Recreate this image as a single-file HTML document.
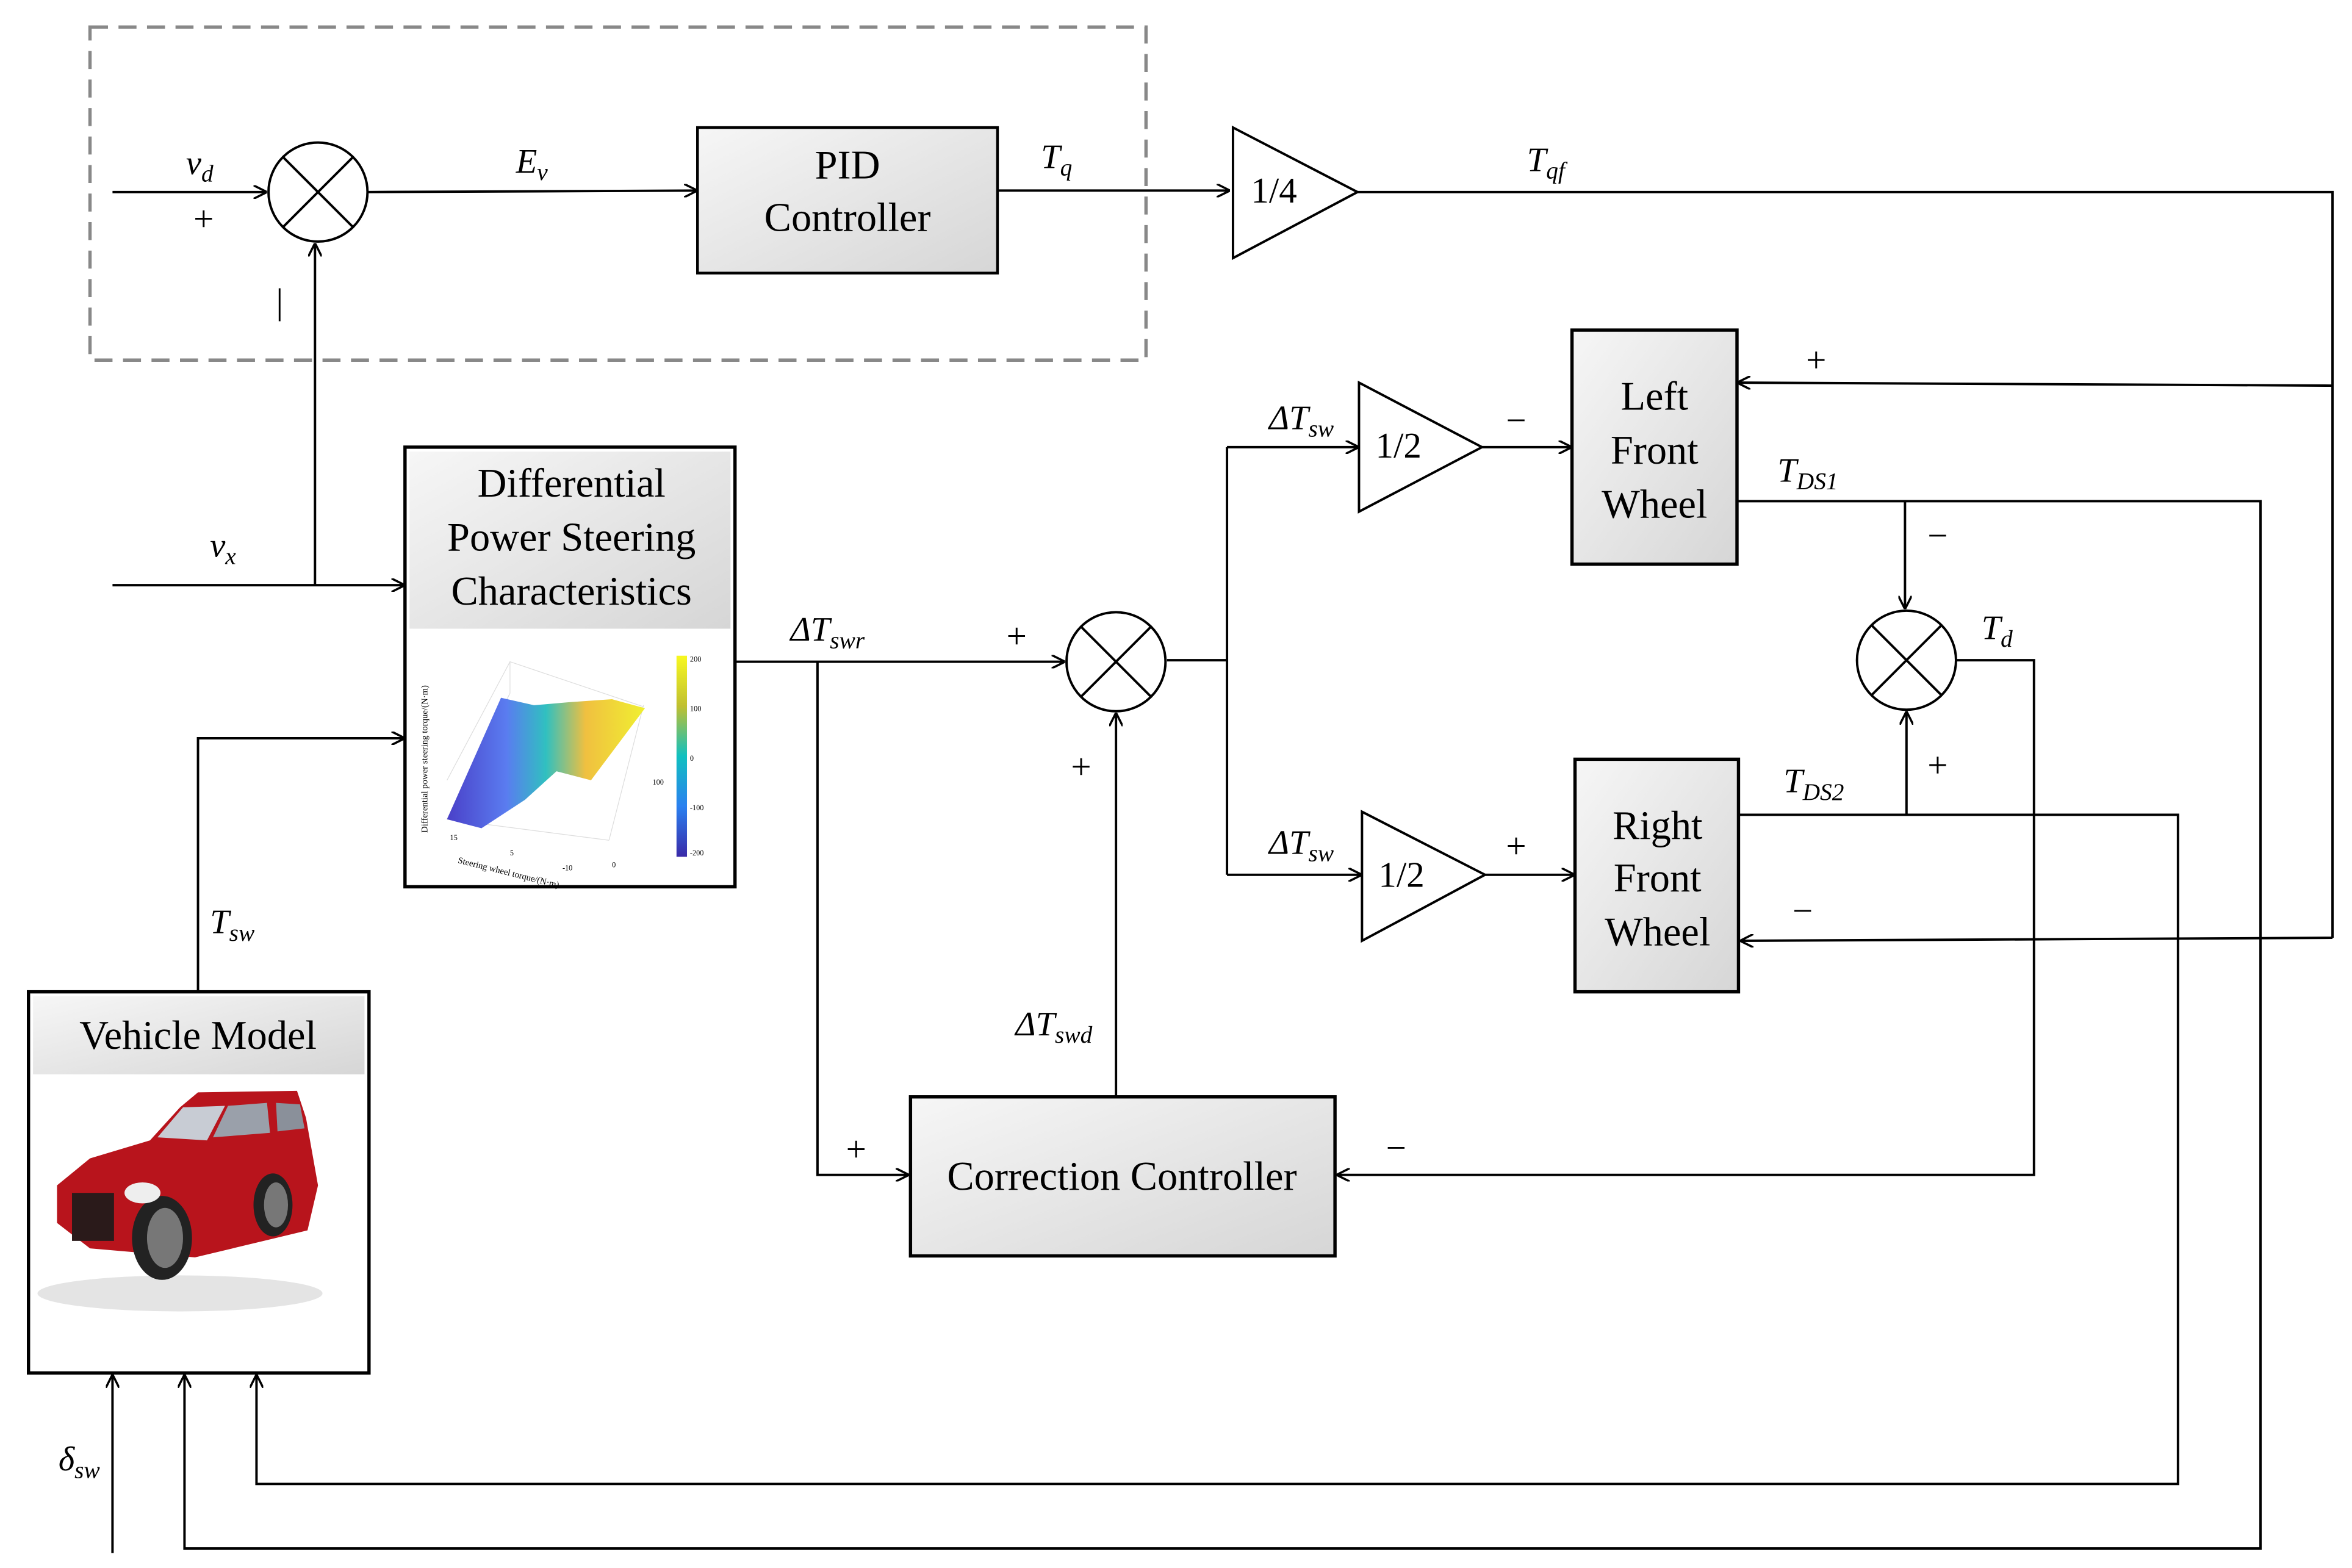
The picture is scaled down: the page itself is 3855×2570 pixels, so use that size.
<!DOCTYPE html>
<html><head><meta charset="utf-8"><style>
html,body{margin:0;padding:0;background:#fff;}
svg{display:block;}
text{font-family:"Liberation Serif",serif;fill:#000;}
.m{font-style:italic;font-size:23px;}
.s{font-size:16px;font-style:italic;}
.b{font-size:27px;text-anchor:middle;}
.p{font-size:24px;}
</style></head><body>
<svg width="3855" height="2570" viewBox="0 0 1568 1045" preserveAspectRatio="none" xmlns="http://www.w3.org/2000/svg">
<defs>
<marker id="a" viewBox="0 0 10 10" refX="10" refY="5" markerWidth="9" markerHeight="9" markerUnits="userSpaceOnUse" orient="auto">
<path d="M0,0 L10,5 L0,10" fill="none" stroke="#000" stroke-width="1.6"/></marker>
<linearGradient id="g" x1="0" y1="0" x2="1" y2="1"><stop offset="0" stop-color="#f6f6f6"/><stop offset="1" stop-color="#d6d6d6"/></linearGradient>
<linearGradient id="sf" x1="0" y1="0" x2="1" y2="0"><stop offset="0" stop-color="#4a40c8"/><stop offset="0.3" stop-color="#5a7cf0"/><stop offset="0.5" stop-color="#30c0c0"/><stop offset="0.7" stop-color="#f0c040"/><stop offset="1" stop-color="#f0f030"/></linearGradient>
<linearGradient id="cb" x1="0" y1="1" x2="0" y2="0"><stop offset="0" stop-color="#3a2aa8"/><stop offset="0.25" stop-color="#2a80f0"/><stop offset="0.5" stop-color="#10c0c0"/><stop offset="0.75" stop-color="#c0c030"/><stop offset="1" stop-color="#f8f820"/></linearGradient>
</defs>
<g stroke="#000" stroke-width="1.6" fill="none">
<rect x="60" y="18" width="704" height="222" stroke="#888" stroke-width="2.2" stroke-dasharray="12,7"/>
<line x1="75" y1="128" x2="178" y2="128" marker-end="url(#a)"/>
<circle cx="212" cy="128" r="33"/><line x1="189" y1="105" x2="235" y2="151"/><line x1="235" y1="105" x2="189" y2="151"/>
<line x1="245" y1="128" x2="465" y2="127" marker-end="url(#a)"/>
<line x1="665" y1="127" x2="820" y2="127" marker-end="url(#a)"/>
<polygon points="822,85 822,172 905,128"/>
<polyline points="905,128 1555,128 1555,625"/>
<line x1="1555" y1="257" x2="1158" y2="255" marker-end="url(#a)"/>
<line x1="1555" y1="625" x2="1160" y2="627" marker-end="url(#a)"/>
<polygon points="906,255 906,341 988,298"/>
<line x1="988" y1="298" x2="1048" y2="298" marker-end="url(#a)"/>
<polygon points="908,541 908,627 990,583"/>
<line x1="990" y1="583" x2="1050" y2="583" marker-end="url(#a)"/>
<circle cx="744" cy="441" r="33"/><line x1="721" y1="418" x2="767" y2="464"/><line x1="767" y1="418" x2="721" y2="464"/>
<polyline points="778,440 818,440"/>
<line x1="818" y1="298" x2="818" y2="583"/>
<line x1="818" y1="298" x2="906" y2="298" marker-end="url(#a)"/>
<line x1="818" y1="583" x2="908" y2="583" marker-end="url(#a)"/>
<line x1="75" y1="390" x2="270" y2="390" marker-end="url(#a)"/>
<line x1="210" y1="390" x2="210" y2="162" marker-end="url(#a)"/>
<line x1="490" y1="441" x2="710" y2="441" marker-end="url(#a)"/>
<polyline points="545,441 545,783 606,783" marker-end="url(#a)"/>
<line x1="744" y1="731" x2="744" y2="475" marker-end="url(#a)"/>
<polyline points="132,661 132,492 270,492" marker-end="url(#a)"/>
<polyline points="1158,334 1507,334 1507,1032 123,1032 123,916" marker-end="url(#a)"/>
<line x1="1270" y1="334" x2="1270" y2="406" marker-end="url(#a)"/>
<circle cx="1271" cy="440" r="33"/><line x1="1248" y1="417" x2="1294" y2="463"/><line x1="1294" y1="417" x2="1248" y2="463"/>
<polyline points="1159,543 1452,543 1452,989 171,989 171,916" marker-end="url(#a)"/>
<line x1="1271" y1="543" x2="1271" y2="474" marker-end="url(#a)"/>
<polyline points="1304,440 1356,440 1356,783 891,783" marker-end="url(#a)"/>
<line x1="75" y1="1035" x2="75" y2="916" marker-end="url(#a)"/>
</g>
<rect x="465" y="85" width="200" height="97" fill="url(#g)" stroke="#000" stroke-width="1.8"/>
<rect x="1048" y="220" width="110" height="156" fill="url(#g)" stroke="#000" stroke-width="2.2"/>
<rect x="1050" y="506" width="109" height="155" fill="url(#g)" stroke="#000" stroke-width="2.2"/>
<rect x="607" y="731" width="283" height="106" fill="url(#g)" stroke="#000" stroke-width="2.2"/>
<rect x="270" y="298" width="220" height="293" fill="#fff" stroke="#000" stroke-width="2.2"/>
<rect x="273" y="301" width="214" height="118" fill="url(#g)"/>
<rect x="19" y="661" width="227" height="254" fill="#fff" stroke="#000" stroke-width="2.2"/>
<rect x="22" y="664" width="221" height="52" fill="url(#g)"/>
<g stroke="#ddd" stroke-width="0.5" fill="none">
<polyline points="298,546 340,462 340,441 429,471"/><line x1="340" y1="441" x2="298" y2="520"/>
<line x1="298" y1="546" x2="406" y2="560"/><line x1="406" y1="560" x2="429" y2="470"/>
</g>
<polygon points="334,465 356,470 379,468 408,466 430,472 394,520 371,514 350,533 321,552 298,546" fill="url(#sf)"/>
<rect x="451" y="437" width="7" height="134" fill="url(#cb)"/>
<g font-size="5" fill="#555"><text x="460" y="441">200</text><text x="460" y="474">100</text><text x="460" y="507">0</text><text x="460" y="540">-100</text><text x="460" y="570">-200</text>
<text x="300" y="560">15</text><text x="340" y="570">5</text><text x="375" y="580">-10</text><text x="408" y="578">0</text><text x="435" y="523">100</text></g>
<text x="305" y="575" font-size="6" fill="#444" transform="rotate(14 305 575)">Steering wheel torque/(N·m)</text>
<text x="285" y="555" font-size="6" fill="#444" transform="rotate(-90 285 555)">Differential power steering torque/(N·m)</text>
<ellipse cx="120" cy="862" rx="95" ry="12" fill="#e4e4e4"/>
<polygon points="38,790 60,772 100,760 120,738 132,728 198,727 204,745 212,790 205,820 130,838 60,832 38,815" fill="#b8141c"/>
<polygon points="105,758 122,738 150,737 138,760" fill="#c8ccd4"/>
<polygon points="142,758 152,737 178,735 180,755" fill="#9aa0aa"/>
<polygon points="184,735 200,736 203,752 185,754" fill="#8a909a"/>
<rect x="48" y="795" width="28" height="32" fill="#2a1a1a"/>
<ellipse cx="108" cy="825" rx="20" ry="28" fill="#222"/><ellipse cx="110" cy="825" rx="12" ry="20" fill="#777"/>
<ellipse cx="182" cy="803" rx="13" ry="21" fill="#222"/><ellipse cx="184" cy="803" rx="8" ry="15" fill="#777"/>
<ellipse cx="95" cy="795" rx="12" ry="7" fill="#eee"/>
<text class="b" x="565" y="119">PID</text><text class="b" x="565" y="154">Controller</text>
<text class="b" x="1103" y="273">Left</text><text class="b" x="1103" y="309">Front</text><text class="b" x="1103" y="345">Wheel</text>
<text class="b" x="1105" y="559">Right</text><text class="b" x="1105" y="594">Front</text><text class="b" x="1105" y="630">Wheel</text>
<text class="b" x="748" y="793">Correction Controller</text>
<text class="b" x="381" y="331">Differential</text><text class="b" x="381" y="367">Power Steering</text><text class="b" x="381" y="403">Characteristics</text>
<text class="b" x="132" y="699">Vehicle Model</text>
<text class="p" x="834" y="135">1/4</text><text class="p" x="917" y="305">1/2</text><text class="p" x="919" y="591">1/2</text>
<text class="m" x="124" y="116">v<tspan class="s" dy="5">d</tspan></text>
<text class="p" x="129" y="154">+</text>
<text class="p" x="184" y="209">|</text>
<text class="m" x="344" y="115">E<tspan class="s" dy="5">v</tspan></text>
<text class="m" x="694" y="112">T<tspan class="s" dy="5">q</tspan></text>
<text class="m" x="1018" y="114">T<tspan class="s" dy="5">qf</tspan></text>
<text class="p" x="1204" y="248">+</text><text class="p" x="1195" y="615">−</text>
<text class="p" x="1004" y="288">−</text><text class="p" x="1004" y="572">+</text>
<text class="m" x="846" y="286">ΔT<tspan class="s" dy="5">sw</tspan></text>
<text class="m" x="846" y="569">ΔT<tspan class="s" dy="5">sw</tspan></text>
<text class="m" x="140" y="371">v<tspan class="s" dy="5">x</tspan></text>
<text class="m" x="527" y="427">ΔT<tspan class="s" dy="5">swr</tspan></text>
<text class="p" x="671" y="432">+</text><text class="p" x="714" y="519">+</text><text class="p" x="564" y="774">+</text>
<text class="m" x="677" y="690">ΔT<tspan class="s" dy="5">swd</tspan></text>
<text class="m" x="140" y="622">T<tspan class="s" dy="5">sw</tspan></text>
<text class="m" x="1185" y="321">T<tspan class="s" dy="5">DS1</tspan></text>
<text class="m" x="1189" y="528">T<tspan class="s" dy="5">DS2</tspan></text>
<text class="p" x="1285" y="365">−</text><text class="p" x="1285" y="518">+</text>
<text class="m" x="1321" y="426">T<tspan class="s" dy="5">d</tspan></text>
<text class="p" x="924" y="773">−</text>
<text class="m" x="39" y="980">δ<tspan class="s" dy="5">sw</tspan></text>
</svg>
</body></html>
